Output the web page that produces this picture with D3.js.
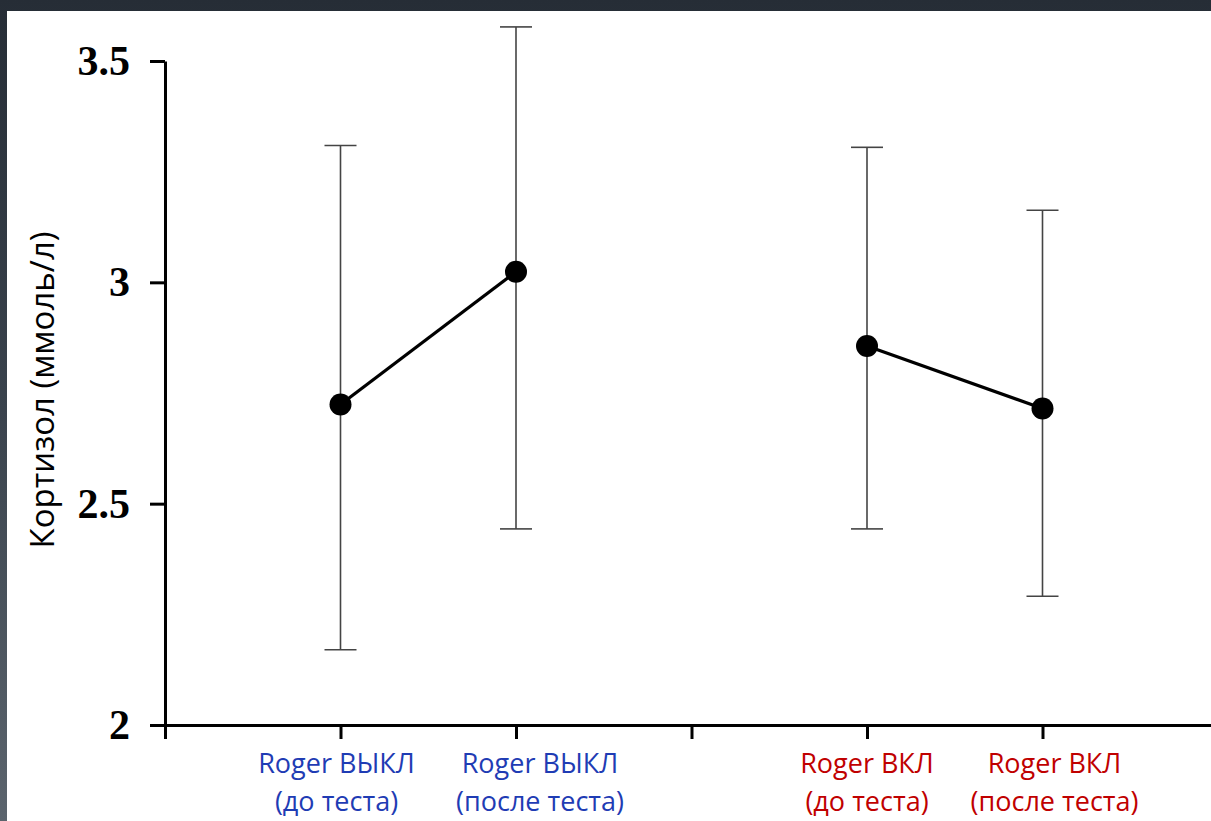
<!DOCTYPE html>
<html>
<head>
<meta charset="utf-8">
<script src="https://cdn.jsdelivr.net/npm/d3@7"></script>
<style>
  html, body { margin: 0; padding: 0; }
  body {
    width: 1211px; height: 821px; overflow: hidden;
    background: linear-gradient(to bottom, #262d36 0%, #3a434d 50%, #5b646d 100%);
  }
  #canvas { position: absolute; left: 7px; top: 11px; width: 1204px; height: 810px; background: #fff; }
  svg { position: absolute; left: 0; top: 0; }
</style>
</head>
<body>
<div id="canvas"></div>
<svg id="chart" width="1211" height="821"></svg>
<script>
// data
const categories = ["Roger ВЫКЛ|(до теста)", "Roger ВЫКЛ|(после теста)", "Roger ВКЛ|(до теста)", "Roger ВКЛ|(после теста)"];
const catPos = [1, 2, 4, 5];
const groups = [0, 0, 1, 1];
const means = [2.724, 3.024, 2.856, 2.715];
const upper = [3.309, 3.577, 3.305, 3.163];
const lower = [2.170, 2.443, 2.443, 2.291];
const yTicks = [2, 2.5, 3, 3.5];
const yTitle = "Кортизол (ммоль/л)";

// layout / style
const groupColor = ["#1f3cb4", "#c00000"];
const labelDx = [-4, 24, 0, 12];

const svg = d3.select("#chart");

const x = d3.scaleLinear().domain([0, 6]).range([165, 1218]);
const y = d3.scaleLinear().domain([2, 3.5]).range([725, 61]);

// x axis
const xAxis = svg.append("g")
  .attr("transform", "translate(0,725)")
  .call(d3.axisBottom(x).tickValues([0, 1, 2, 3, 4, 5]).tickSize(14).tickSizeOuter(0).tickFormat(""));
xAxis.selectAll("path, line").attr("stroke", "#000").attr("stroke-width", 3);

// y axis
const yAxis = svg.append("g")
  .attr("transform", "translate(165,0)")
  .call(d3.axisLeft(y).tickValues(yTicks).tickSize(15).tickSizeOuter(0).tickPadding(20)
    .tickFormat(d => d3.format("")(d)));
yAxis.selectAll("path, line").attr("stroke", "#000").attr("stroke-width", 3);
yAxis.selectAll("text")
  .attr("fill", "#000")
  .style("font-family", "'Liberation Serif', 'Times New Roman', serif")
  .style("font-weight", "bold")
  .style("font-size", "42px");

// y title
svg.append("text")
  .attr("transform", "translate(54,390) rotate(-90)")
  .attr("text-anchor", "middle")
  .style("font-family", "'Open Sans', sans-serif")
  .style("font-size", "33px")
  .attr("fill", "#000")
  .text(yTitle);

// error bars
const pts = means.map((m, i) => ({ i, x: x(catPos[i]), m, hi: upper[i], lo: lower[i], g: groups[i] }));
const eb = svg.append("g").attr("stroke", "#444").attr("stroke-width", 1.6);
eb.selectAll(".stem").data(pts).join("line")
  .attr("x1", d => d.x).attr("x2", d => d.x)
  .attr("y1", d => y(d.hi)).attr("y2", d => y(d.lo));
eb.selectAll(".capTop").data(pts).join("line")
  .attr("x1", d => d.x - 16).attr("x2", d => d.x + 16)
  .attr("y1", d => y(d.hi)).attr("y2", d => y(d.hi));
eb.selectAll(".capBot").data(pts).join("line")
  .attr("x1", d => d.x - 16).attr("x2", d => d.x + 16)
  .attr("y1", d => y(d.lo)).attr("y2", d => y(d.lo));

// connecting lines
const line = d3.line().x(d => d.x).y(d => y(d.m));
d3.groups(pts, d => d.g).forEach(([g, arr]) => {
  svg.append("path").attr("d", line(arr))
    .attr("fill", "none").attr("stroke", "#000").attr("stroke-width", 3.2);
});

// markers
svg.selectAll(".dot").data(pts).join("circle")
  .attr("cx", d => d.x).attr("cy", d => y(d.m)).attr("r", 11)
  .attr("fill", "#000");

// category labels
const lab = svg.selectAll(".lab").data(pts).join("text")
  .attr("text-anchor", "middle")
  .style("font-family", "'Open Sans', sans-serif")
  .style("font-size", "27px")
  .attr("fill", d => groupColor[d.g]);
lab.each(function(d) {
  const lines = categories[d.i].split("|");
  d3.select(this).selectAll("tspan").data(lines).join("tspan")
    .attr("x", d.x + labelDx[d.i])
    .attr("y", (l, k) => 773 + k * 38)
    .text(l => l);
});
</script>
</body>
</html>
